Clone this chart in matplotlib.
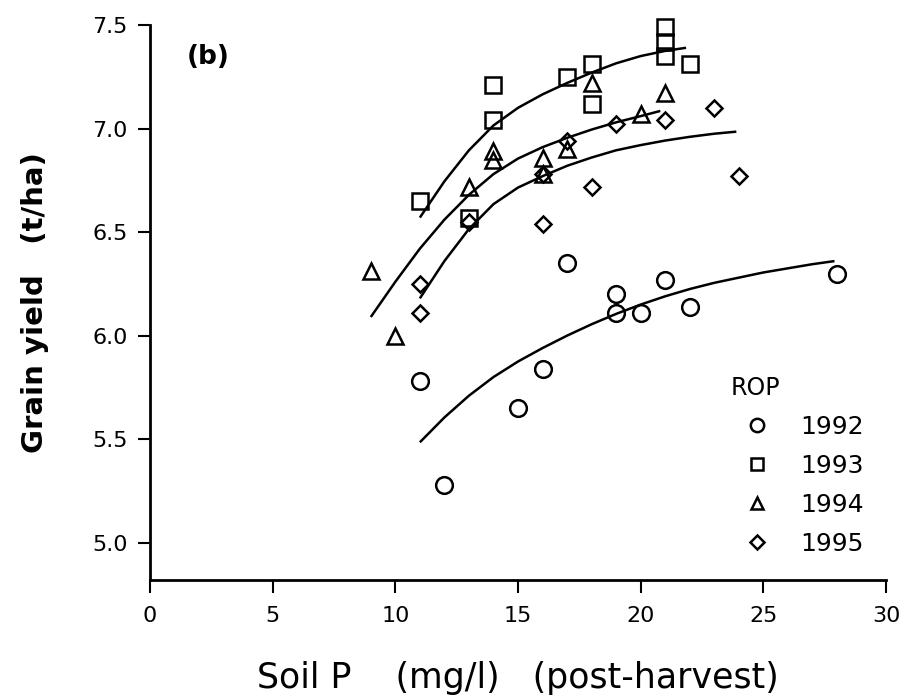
import matplotlib as mpl
import matplotlib.pyplot as plt

mpl.rcParams['font.family'] = ['DejaVu Sans']

# Soil P (mg/l) and grain yield (t/ha) for each ROP year
p_1992 = [11, 12, 15, 16, 17, 19, 19, 20, 21, 22, 28]
y_1992 = [5.78, 5.28, 5.65, 5.84, 6.35, 6.20, 6.11, 6.11, 6.27, 6.14, 6.30]

p_1993 = [11, 13, 14, 14, 17, 18, 18, 21, 21, 21, 22]
y_1993 = [6.65, 6.57, 7.21, 7.04, 7.25, 7.31, 7.12, 7.49, 7.42, 7.35, 7.31]

p_1994 = [9, 10, 13, 14, 14, 16, 16, 17, 18, 20, 21]
y_1994 = [6.31, 6.00, 6.72, 6.89, 6.85, 6.86, 6.78, 6.90, 7.22, 7.07, 7.17]

p_1995 = [11, 11, 13, 16, 16, 17, 18, 19, 21, 23, 24]
y_1995 = [6.25, 6.11, 6.55, 6.78, 6.54, 6.94, 6.72, 7.02, 7.04, 7.10, 6.77]

# fitted response curves
fit_p_1992 = [11, 12, 13, 14, 15, 16, 17, 18, 19, 20, 21, 22, 23, 24, 25, 26, 27, 27.9]
fit_y_1992 = [5.485, 5.605, 5.71, 5.80, 5.875, 5.94, 6.00, 6.055, 6.105, 6.15,
              6.19, 6.225, 6.255, 6.28, 6.305, 6.325, 6.345, 6.36]

fit_p_1993 = [11, 12, 13, 14, 15, 16, 17, 18, 19, 20, 21, 21.85]
fit_y_1993 = [6.57, 6.745, 6.895, 7.015, 7.10, 7.165, 7.22, 7.27, 7.315, 7.35, 7.375, 7.39]

fit_p_1994 = [9, 10, 11, 12, 13, 14, 15, 16, 17, 18, 19, 20, 20.8]
fit_y_1994 = [6.09, 6.26, 6.42, 6.56, 6.68, 6.78, 6.855, 6.91, 6.955, 6.995, 7.03, 7.06, 7.085]

fit_p_1995 = [11, 12, 13, 14, 15, 16, 17, 18, 19, 20, 21, 22, 23, 23.9]
fit_y_1995 = [6.18, 6.36, 6.515, 6.635, 6.715, 6.77, 6.82, 6.86, 6.895, 6.92,
              6.942, 6.96, 6.975, 6.985]

years = ['1992', '1993', '1994', '1995']
markers = ['o', 's', '^', 'D']
sizes = [12, 11.5, 11.5, 8.5]

points = [(p_1992, y_1992), (p_1993, y_1993), (p_1994, y_1994), (p_1995, y_1995)]
fits = [(fit_p_1992, fit_y_1992), (fit_p_1993, fit_y_1993),
        (fit_p_1994, fit_y_1994), (fit_p_1995, fit_y_1995)]

fig = plt.figure(figsize=(9.07, 6.98), dpi=100)
ax = fig.add_axes([150 / 907, 118 / 698, 736 / 907, 555 / 698])

for (px, py), (fx, fy), yr, m, ms in zip(points, fits, years, markers, sizes):
    ax.plot(px, py, linestyle='none', marker=m, markersize=ms, markerfacecolor='none',
            markeredgecolor='black', markeredgewidth=1.8, clip_on=False, label=yr)
    ax.plot(fx, fy, color='black', linewidth=1.8, solid_capstyle='butt')

ax.set_xlim(0, 30)
ax.set_ylim(4.82, 7.5)
ax.set_xticks([0, 5, 10, 15, 20, 25, 30])
ax.set_yticks([5.0, 5.5, 6.0, 6.5, 7.0, 7.5])
ax.set_yticklabels(['5.0', '5.5', '6.0', '6.5', '7.0', '7.5'])

for side in ['top', 'right']:
    ax.spines[side].set_visible(False)
for side in ['left', 'bottom']:
    ax.spines[side].set_linewidth(2)

ax.tick_params(axis='both', direction='out', length=9, width=1.5, labelsize=16)
ax.tick_params(axis='x', pad=10)
ax.tick_params(axis='y', pad=7)

ax.set_xlabel('Soil P    (mg/l)   (post-harvest)', fontsize=25)
ax.xaxis.set_label_coords(0.5, -0.146)
ax.set_ylabel('Grain yield   (t/ha)', fontsize=21, fontweight='bold')
ax.yaxis.set_label_coords(-0.137, 0.5)

ax.text(0.05, 0.93, '(b)', transform=ax.transAxes, fontsize=19, fontweight='bold')

leg = ax.legend(title='ROP', loc='upper left', bbox_to_anchor=(0.772, 0.39),
                frameon=False, fontsize=18, title_fontsize=17, markerscale=0.8,
                handlelength=2.08, handletextpad=0.72, labelspacing=0.6,
                borderpad=0, alignment='left')

fig.savefig('out.png', dpi=100)
